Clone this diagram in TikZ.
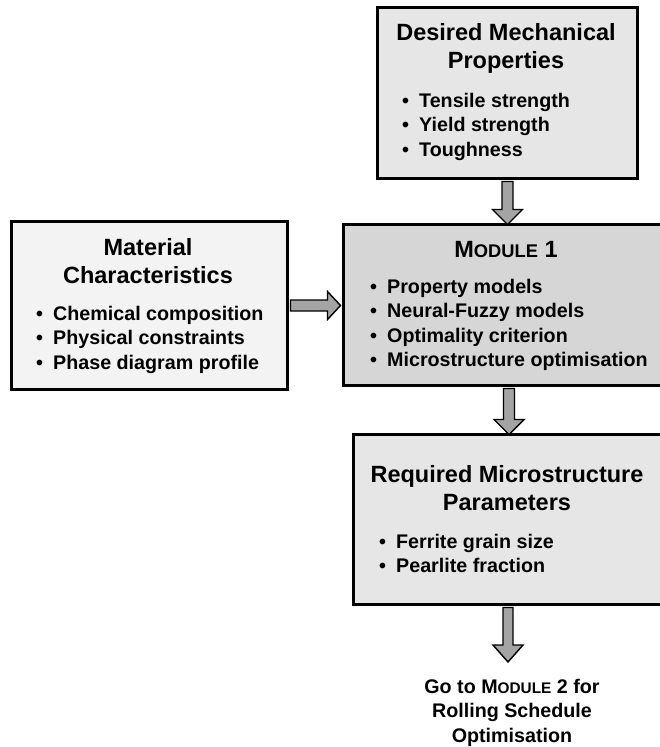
\documentclass[tikz,border=0pt]{standalone}
\usepackage{fontspec}
\setmainfont{Liberation Sans}
\usetikzlibrary{calc}
\definecolor{boxA}{HTML}{E6E6E6}
\definecolor{boxB}{HTML}{F3F3F3}
\definecolor{boxM}{HTML}{D6D6D6}
\definecolor{arrowfill}{HTML}{A4A4A4}
\newcommand{\titlefont}{\fontsize{23.5}{28}\selectfont\bfseries}
\newcommand{\itemfont}{\fontsize{19.7}{24.5}\selectfont\bfseries}
\newcommand{\bul}{\makebox[17pt][l]{\textbullet}}
\newcommand{\modsc}[1]{{\fontsize{0.78\dimexpr\fontdimen6\font\relax}{0pt}\selectfont #1}}
\begin{document}
\begin{tikzpicture}[x=1pt,y=-1pt,
  box/.style={draw=black,line width=3pt,inner sep=0pt,anchor=north west},
  title/.style={font=\titlefont,align=center,inner sep=0pt},
  items/.style={font=\itemfont,align=left,inner sep=0pt},
  fatarrow/.style={draw=black,line width=1.4pt,fill=arrowfill,line join=miter}]
\useasboundingbox (0,0) rectangle (660,747);
\clip (0,0) rectangle (660,747);
\fill[white] (0,0) rectangle (660,747);

% boxes
\node[box,fill=boxA,minimum width=260pt,minimum height=171pt] (dmp) at (376,6) {};
\node[box,fill=boxB,minimum width=276pt,minimum height=168pt] (mat) at (10,220) {};
\node[box,fill=boxM,minimum width=340pt,minimum height=161pt] (mod) at (342,223) {};
\node[box,fill=boxA,minimum width=330pt,minimum height=170pt] (req) at (352,433) {};

% texts (anchor base = baseline of the last line)
\node[title,anchor=base] (dmpT) at (506,68) {Desired Mechanical\\Properties};
\node[items,anchor=base west] (dmpI) at (402,156) {\bul Tensile strength\\\bul Yield strength\\\bul Toughness};

\node[title,anchor=base] (matT) at (148,283) {Material\\Characteristics};
\node[items,anchor=base west] (matI) at (36,369) {\bul Chemical composition\\\bul Physical constraints\\\bul Phase diagram profile};

\node[title,anchor=base] (modT) at (506,257) {M\modsc{ODULE} 1};
\node[items,anchor=base west] (modI) at (370,366.5) {\bul Property models\\\bul Neural-Fuzzy models\\\bul Optimality criterion\\\bul Microstructure optimisation};

\node[title,anchor=base] (reqT) at (507,510) {Required Microstructure\\Parameters};
\node[items,anchor=base west] (reqI) at (379,572.5) {\bul Ferrite grain size\\\bul Pearlite fraction};

\node[items,align=center,anchor=base] (goto) at (512,742) {Go to M\modsc{ODULE} 2 for\\Rolling Schedule\\Optimisation};
\coordinate (gotoTip) at (508,662);

% arrows
\draw[fatarrow] let \p1=($(dmp.south)+(0,-1.5pt)$), \p2=($(dmp.south |- mod.north)+(0,-1.5pt)$) in
  (\x1-5.5pt,\y1) -- (\x1-5.5pt,\y2+15pt) -- (\x1-15pt,\y2+15pt) -- (\x1,\y2) -- (\x1+15pt,\y2+15pt) -- (\x1+5.5pt,\y2+15pt) -- (\x1+5.5pt,\y1) -- cycle;
\draw[fatarrow] let \p1=($(mat.east)+(1.5pt,0)$), \p2=($(mod.west)+(-1.5pt,0)$) in
  (\x1,\y1+5.5pt) -- (\x2-13pt,\y1+5.5pt) -- (\x2-13pt,\y1+14pt) -- (\x2,\y1) -- (\x2-13pt,\y1-14pt) -- (\x2-13pt,\y1-5.5pt) -- (\x1,\y1-5.5pt) -- cycle;
\draw[fatarrow] let \p1=($(dmp.south |- mod.south)+(1.5pt,-1.5pt)$), \p2=($(dmp.south |- req.north)+(1.5pt,-1.5pt)$) in
  (\x1-5.5pt,\y1) -- (\x1-5.5pt,\y2+15pt) -- (\x1-15pt,\y2+15pt) -- (\x1,\y2) -- (\x1+15pt,\y2+15pt) -- (\x1+5.5pt,\y2+15pt) -- (\x1+5.5pt,\y1) -- cycle;
\draw[fatarrow] let \p1=($(gotoTip |- req.south)+(0,-1.5pt)$), \p2=(gotoTip) in
  (\x1-5pt,\y1) -- (\x1-5pt,\y2+17pt) -- (\x1-15pt,\y2+17pt) -- (\x1,\y2) -- (\x1+15pt,\y2+17pt) -- (\x1+5pt,\y2+17pt) -- (\x1+5pt,\y1) -- cycle;
\end{tikzpicture}
\end{document}
